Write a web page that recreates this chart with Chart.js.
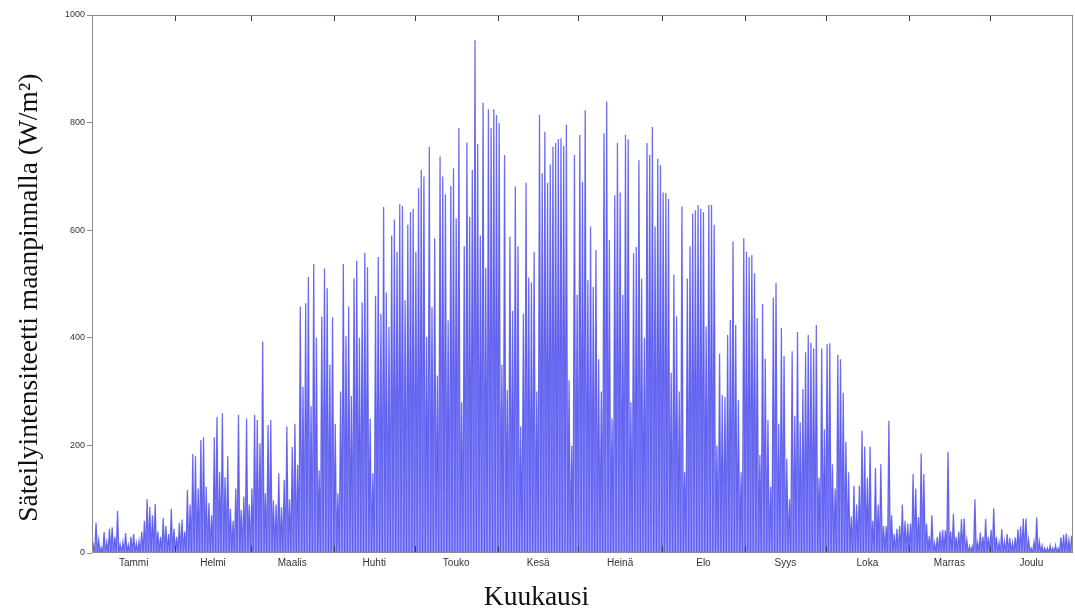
<!DOCTYPE html>
<html>
<head>
<meta charset="utf-8">
<script src="https://cdn.jsdelivr.net/npm/chart.js@4.4.1/dist/chart.umd.min.js"></script>
<style>
html, body { margin: 0; padding: 0; background: #fff; }
#wrap { width: 1075px; height: 614px; }
</style>
</head>
<body>
<div id="wrap"><canvas id="chart" width="1075" height="614"></canvas></div>
<script>
const monthLabels = ['Tammi', 'Helmi', 'Maalis', 'Huhti', 'Touko', 'Kesä', 'Heinä', 'Elo', 'Syys', 'Loka', 'Marras', 'Joulu'];
const monthDays = [31, 28, 31, 30, 31, 30, 31, 31, 30, 31, 30, 31];
const yTicks = [0, 200, 400, 600, 800, 1000];

// daily peak irradiance (W/m2), one value per day
const tammi = [15, 56, 24, 10, 39, 20, 45, 48, 30, 78, 15, 20, 37, 15, 30, 35, 18, 22, 40, 60, 100, 86, 70, 91, 40, 30, 65, 50, 35, 82, 45];
const helmi = [30, 56, 62, 40, 117, 90, 184, 180, 120, 210, 215, 123, 93, 70, 215, 253, 150, 260, 141, 180, 82, 60, 120, 257, 80, 105, 250, 90];
const maalis = [120, 257, 247, 204, 393, 111, 238, 247, 98, 90, 148, 85, 136, 235, 100, 197, 240, 164, 458, 309, 464, 513, 273, 537, 400, 154, 439, 529, 492, 350, 438];
const huhti = [240, 111, 300, 537, 403, 458, 292, 510, 543, 400, 466, 558, 531, 250, 148, 478, 550, 444, 643, 484, 420, 590, 620, 560, 648, 645, 470, 610, 634, 640];
const touko = [560, 678, 712, 700, 402, 755, 457, 585, 330, 737, 700, 667, 432, 682, 715, 622, 790, 280, 570, 763, 625, 712, 953, 760, 590, 837, 530, 825, 790, 825, 814];
const kesa = [799, 350, 740, 303, 588, 450, 681, 570, 235, 445, 688, 512, 503, 560, 300, 814, 706, 783, 688, 722, 755, 762, 769, 771, 757, 796, 321, 200, 740, 480];
const heina = [777, 690, 823, 507, 607, 495, 563, 360, 300, 780, 839, 582, 250, 665, 762, 670, 480, 777, 769, 280, 557, 569, 730, 510, 400, 762, 740, 792, 607, 733, 721];
const elo = [670, 669, 658, 335, 517, 440, 300, 644, 150, 510, 570, 631, 637, 647, 640, 634, 421, 647, 647, 610, 200, 371, 293, 290, 405, 433, 579, 424, 284, 150, 585];
const syys = [560, 550, 554, 520, 437, 182, 463, 361, 247, 123, 475, 502, 240, 418, 366, 175, 100, 375, 255, 411, 243, 305, 373, 405, 391, 380, 424, 140, 380, 230];
const loka = [388, 390, 165, 120, 368, 360, 298, 207, 150, 68, 125, 90, 125, 227, 198, 140, 198, 60, 158, 90, 165, 50, 50, 246, 70, 35, 45, 50, 90, 60, 55];
const marras = [55, 147, 120, 67, 185, 147, 55, 31, 70, 18, 30, 40, 43, 42, 188, 40, 73, 30, 40, 63, 64, 24, 12, 12, 100, 19, 38, 30, 63, 30];
const joulu = [43, 83, 30, 19, 44, 21, 35, 28, 19, 29, 44, 49, 64, 64, 24, 9, 21, 66, 21, 14, 9, 9, 14, 9, 14, 9, 29, 34, 36, 24, 32];

const dailyPeak = [].concat(tammi, helmi, maalis, huhti, touko, kesa, heina, elo, syys, loka, marras, joulu);

// month starts / centres in days
const monthStarts = [0];
monthDays.forEach(n => monthStarts.push(monthStarts[monthStarts.length - 1] + n));
const monthCenters = monthDays.map((n, i) => monthStarts[i] + n / 2);

// each day: dark at the start, peak at noon
const points = [];
dailyPeak.forEach((p, i) => {
    points.push({ x: i, y: 0 });
    points.push({ x: i + 0.5, y: p });
});
points.push({ x: dailyPeak.length, y: 0 });

const frameTicks = {
    id: 'frameTicks',
    afterDatasetsDraw(chart) {
        const { ctx, chartArea: a, scales: { x } } = chart;
        ctx.save();
        ctx.lineWidth = 1;
        ctx.strokeStyle = '#3a3a5a';
        ctx.beginPath();
        monthStarts.slice(1, -1).forEach(d => {
            const px = Math.round(x.getPixelForValue(d)) + 0.5;
            ctx.moveTo(px, a.bottom);
            ctx.lineTo(px, a.bottom - 7);
            ctx.moveTo(px, a.top);
            ctx.lineTo(px, a.top + 6);
        });
        ctx.stroke();
        ctx.strokeStyle = '#8c8c8c';
        ctx.strokeRect(Math.round(a.left) + 0.5, Math.round(a.top) + 0.5, Math.round(a.width) - 1, Math.round(a.height) - 1);
        ctx.restore();
    }
};

new Chart(document.getElementById('chart').getContext('2d'), {
    type: 'line',
    data: {
        datasets: [{
            data: points,
            borderColor: 'rgba(75, 75, 235, 0.8)',
            backgroundColor: 'rgba(140, 140, 255, 0.85)',
            borderWidth: 1.3,
            fill: 'origin',
            pointRadius: 0,
            tension: 0
        }]
    },
    options: {
        responsive: false,
        devicePixelRatio: 1,
        animation: false,
        layout: { padding: { top: 15, right: 2, left: 0, bottom: 0 } },
        plugins: {
            legend: { display: false },
            tooltip: { enabled: false },
            title: {
                display: true,
                position: 'bottom',
                text: 'Kuukausi',
                color: '#111',
                font: { family: 'Liberation Serif', size: 27.5, weight: 'normal' },
                padding: { top: 0, bottom: 0 }
            }
        },
        scales: {
            x: {
                type: 'linear',
                min: 0,
                max: 365,
                border: { display: false },
                grid: { display: false, drawTicks: false },
                afterBuildTicks: (s) => { s.ticks = monthCenters.map(v => ({ value: v })); },
                afterFit: (s) => { s.height = 28; },
                ticks: {
                    autoSkip: false,
                    maxRotation: 0,
                    padding: 4,
                    color: '#333',
                    font: { family: 'Liberation Sans', size: 10 },
                    callback: (v, i) => monthLabels[i]
                }
            },
            y: {
                min: 0,
                max: 1000,
                border: { display: false },
                grid: { drawOnChartArea: false, drawTicks: true, tickLength: 5, color: '#8c8c8c' },
                afterBuildTicks: (s) => { s.ticks = yTicks.map(v => ({ value: v })); },
                afterFit: (s) => { s.width = 92; },
                ticks: {
                    padding: 2,
                    color: '#333',
                    font: { family: 'Liberation Sans', size: 9 },
                    callback: (v) => String(v)
                },
                title: {
                    display: true,
                    text: 'Säteilyintensiteetti maanpinnalla (W/m²)\u2002\u2002',
                    color: '#111',
                    font: { family: 'Liberation Serif', size: 27.5 },
                    padding: { top: 13, bottom: 0 }
                }
            }
        }
    },
    plugins: [frameTicks]
});
</script>
</body>
</html>
